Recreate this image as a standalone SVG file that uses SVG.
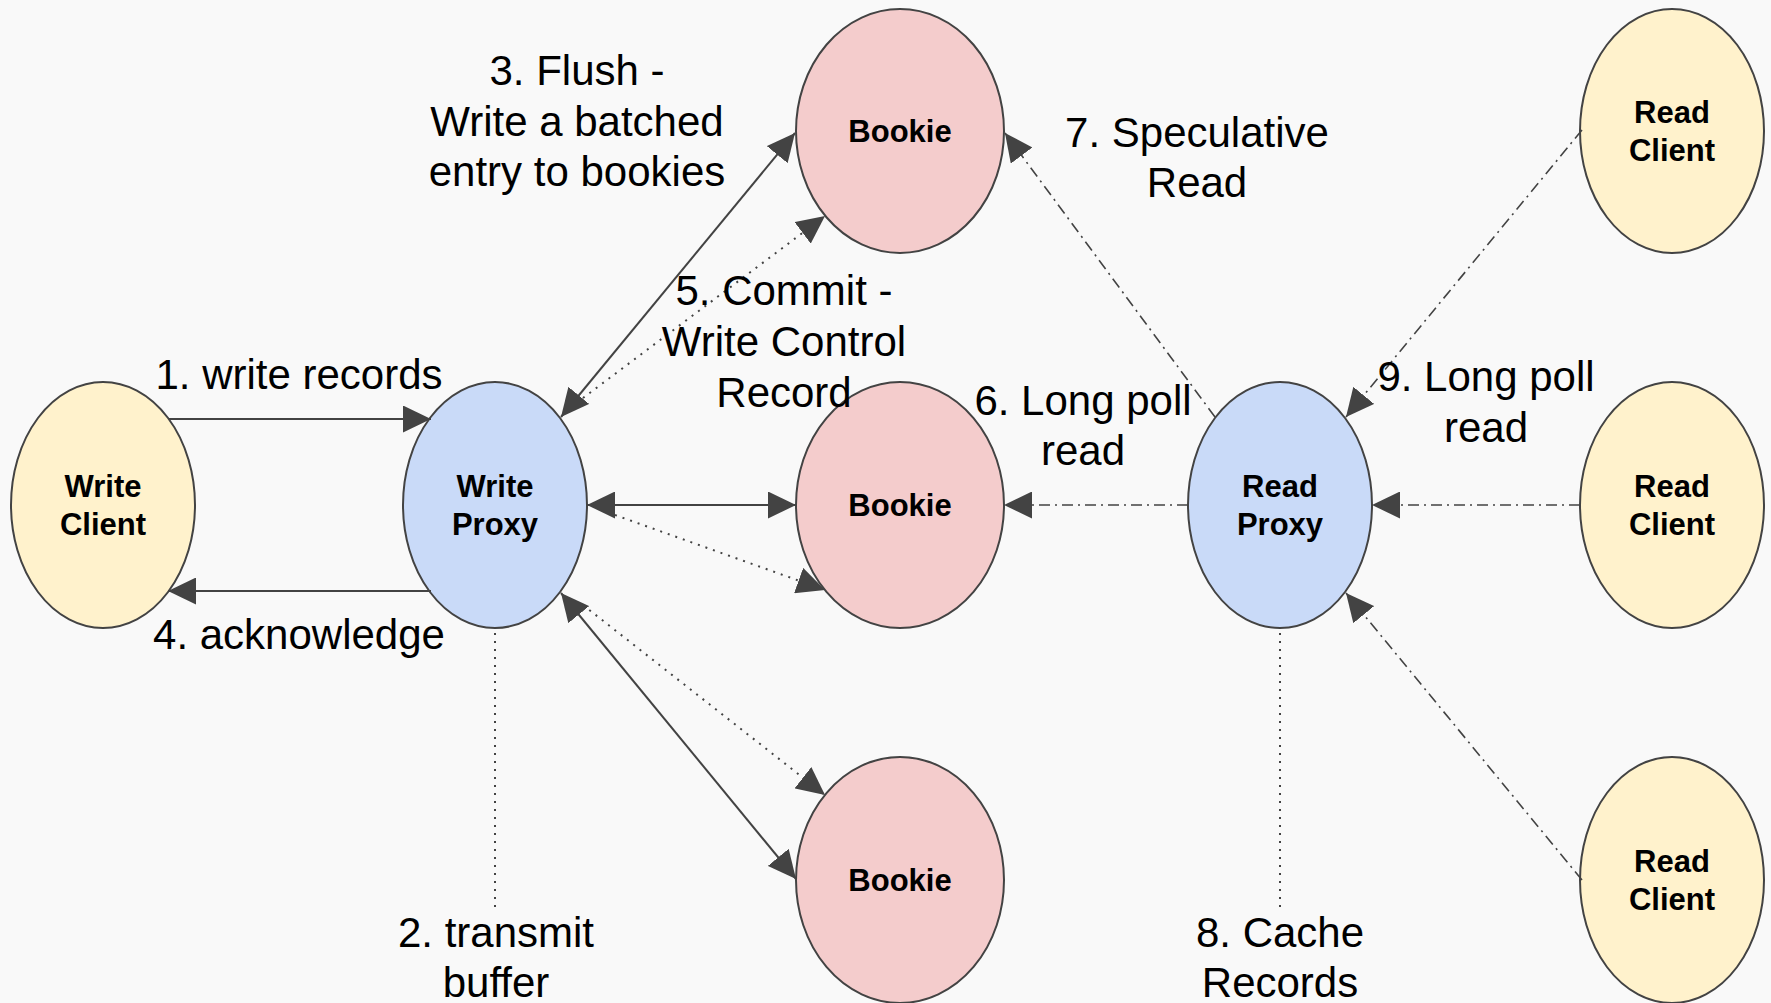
<svg xmlns="http://www.w3.org/2000/svg" width="1771" height="1003" viewBox="0 0 1771 1003">
<style>
.node{stroke:#434343;stroke-width:2}
.wc{fill:#fff2cc}
.px{fill:#c9daf8}
.bk{fill:#f4cccc}
.nl{font-family:"Liberation Sans",Arial,sans-serif;font-weight:bold;font-size:31px;fill:#000;text-anchor:middle}
.el{font-family:"Liberation Sans",Arial,sans-serif;font-size:42px;fill:#000;text-anchor:middle}
.solid{stroke:#434343;stroke-width:2;fill:none}
.dot{stroke:#434343;stroke-width:2;fill:none;stroke-dasharray:2 6}
.dd{stroke:#434343;stroke-width:1.6;fill:none;stroke-dasharray:11 5 2 5}
</style>
<defs>
<marker id="ah" markerUnits="userSpaceOnUse" markerWidth="28" markerHeight="27" refX="28" refY="13.5" orient="auto-start-reverse" viewBox="0 0 28 27">
<path d="M0,0 L28,13.5 L0,27 Z" fill="#434343"/>
</marker>
</defs>
<rect width="1771" height="1003" fill="#f9f9f9"/>

<g id="nodes-shapes">
<g id="write-client"><ellipse class="node wc" cx="103" cy="505" rx="92" ry="123"/><text class="nl" x="103" y="497">Write</text><text class="nl" x="103" y="535">Client</text></g>
<g id="write-proxy"><ellipse class="node px" cx="495" cy="505" rx="92" ry="123"/><text class="nl" x="495" y="497">Write</text><text class="nl" x="495" y="535">Proxy</text></g>
<g id="bookie-1"><ellipse class="node bk" cx="900" cy="131" rx="104" ry="122"/><text class="nl" x="900" y="142">Bookie</text></g>
<g id="bookie-2"><ellipse class="node bk" cx="900" cy="505" rx="104" ry="123"/><text class="nl" x="900" y="516">Bookie</text></g>
<g id="bookie-3"><ellipse class="node bk" cx="900" cy="880" rx="104" ry="123"/><text class="nl" x="900" y="891">Bookie</text></g>
<g id="read-proxy"><ellipse class="node px" cx="1280" cy="505" rx="92" ry="123"/><text class="nl" x="1280" y="497">Read</text><text class="nl" x="1280" y="535">Proxy</text></g>
<g id="read-client-1"><ellipse class="node wc" cx="1672" cy="131" rx="92" ry="122"/><text class="nl" x="1672" y="123">Read</text><text class="nl" x="1672" y="161">Client</text></g>
<g id="read-client-2"><ellipse class="node wc" cx="1672" cy="505" rx="92" ry="123"/><text class="nl" x="1672" y="497">Read</text><text class="nl" x="1672" y="535">Client</text></g>
<g id="read-client-3"><ellipse class="node wc" cx="1672" cy="880" rx="92" ry="123"/><text class="nl" x="1672" y="872">Read</text><text class="nl" x="1672" y="910">Client</text></g>
</g>

<g id="connectors">
<line class="solid" x1="169" y1="419" x2="431" y2="419" marker-end="url(#ah)"/>
<line class="solid" x1="431" y1="591" x2="168" y2="591" marker-end="url(#ah)"/>
<line class="solid" x1="561" y1="417" x2="795" y2="133" marker-start="url(#ah)" marker-end="url(#ah)"/>
<line class="dot" x1="583" y1="398" x2="825" y2="216" marker-end="url(#ah)"/>
<line class="solid" x1="587" y1="505" x2="796" y2="505" marker-start="url(#ah)" marker-end="url(#ah)"/>
<line class="dot" x1="615" y1="515" x2="825" y2="590" marker-end="url(#ah)"/>
<line class="solid" x1="561" y1="593" x2="796" y2="879" marker-start="url(#ah)" marker-end="url(#ah)"/>
<line class="dot" x1="583" y1="605" x2="825" y2="795" marker-end="url(#ah)"/>
<line class="dot" x1="495" y1="633" x2="495" y2="913"/>
<line class="dd" x1="1188" y1="505" x2="1004" y2="505" marker-end="url(#ah)"/>
<line class="dd" x1="1215" y1="417" x2="1005" y2="133" marker-end="url(#ah)"/>
<line class="dd" x1="1582" y1="130" x2="1346" y2="417" marker-end="url(#ah)"/>
<line class="dd" x1="1580" y1="505" x2="1372" y2="505" marker-end="url(#ah)"/>
<line class="dd" x1="1582" y1="880" x2="1346" y2="593" marker-end="url(#ah)"/>
<line class="dot" x1="1280" y1="633" x2="1280" y2="913"/>
</g>

<g id="labels">
<text class="el" x="299" y="389">1. write records</text>
<text class="el" x="299" y="649">4. acknowledge</text>
<text class="el" x="577" y="85">3. Flush -</text>
<text class="el" x="577" y="136">Write a batched</text>
<text class="el" x="577" y="186">entry to bookies</text>
<text class="el" x="784" y="305">5. Commit -</text>
<text class="el" x="784" y="356">Write Control</text>
<text class="el" x="784" y="407">Record</text>
<text class="el" x="1083" y="415">6. Long poll</text>
<text class="el" x="1083" y="465">read</text>
<text class="el" x="1197" y="147">7. Speculative</text>
<text class="el" x="1197" y="197">Read</text>
<text class="el" x="1486" y="391">9. Long poll</text>
<text class="el" x="1486" y="442">read</text>
<text class="el" x="496" y="947">2. transmit</text>
<text class="el" x="496" y="997">buffer</text>
<text class="el" x="1280" y="947">8. Cache</text>
<text class="el" x="1280" y="997">Records</text>
</g>
</svg>
